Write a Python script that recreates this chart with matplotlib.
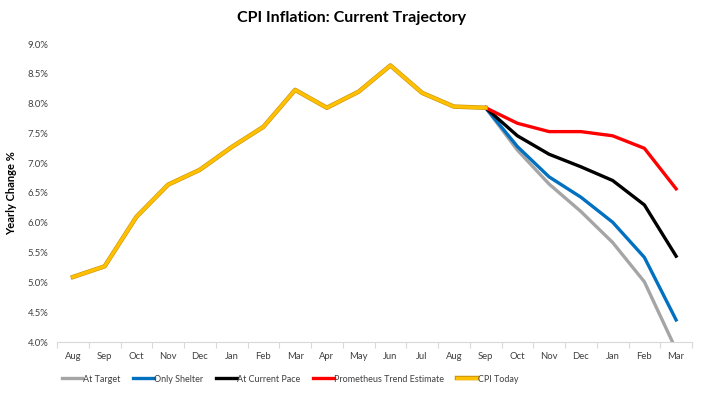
import matplotlib
matplotlib.use('Agg')
import matplotlib.pyplot as plt
import matplotlib.patheffects as pe
import numpy as np
from matplotlib.ticker import FuncFormatter, FixedLocator

months = ['Aug', 'Sep', 'Oct', 'Nov', 'Dec', 'Jan', 'Feb', 'Mar', 'Apr', 'May',
          'Jun', 'Jul', 'Aug', 'Sep', 'Oct', 'Nov', 'Dec', 'Jan', 'Feb', 'Mar']

# CPI history, Aug through Sep (14 months)
cpi_today = [5.09, 5.27, 6.10, 6.64, 6.89, 7.27, 7.61, 8.23, 7.93, 8.20,
             8.64, 8.18, 7.95, 7.93]

# projections, Sep through Mar
at_target = [7.93, 7.22, 6.65, 6.19, 5.67, 5.01, 3.87]
only_shelter = [7.93, 7.28, 6.77, 6.43, 6.01, 5.42, 4.37]
current_pace = [7.93, 7.46, 7.15, 6.94, 6.71, 6.30, 5.44]
prometheus = [7.93, 7.67, 7.53, 7.53, 7.46, 7.25, 6.57]

plt.rcParams['font.family'] = ['Lato', 'DejaVu Sans']

fig = plt.figure(figsize=(7.04, 3.93), dpi=100)
ax = fig.add_axes([57 / 704, 1 - 342 / 393, (692 - 57) / 704, (342 - 44) / 393])

x_hist = np.arange(len(cpi_today))
x_proj = np.arange(len(cpi_today) - 1, len(months))

lw = 2.4
ax.plot(x_proj, at_target, color='#A5A5A5', lw=lw, label='At Target')
ax.plot(x_proj, only_shelter, color='#0070C0', lw=lw, label='Only Shelter')
ax.plot(x_proj, current_pace, color='#000000', lw=lw, label='At Current Pace')
ax.plot(x_proj, prometheus, color='#FF0000', lw=lw, label='Prometheus Trend Estimate')
ax.plot(x_hist, cpi_today, color='#FFC000', lw=lw, label='CPI Today',
        path_effects=[pe.Stroke(linewidth=lw + 0.8, foreground='#C89010'), pe.Normal()])

fs = 6.8
ax.set_xlim(-0.5, len(months) - 0.5)
ax.set_ylim(4.0, 9.0)
ax.set_yticks(np.arange(4.0, 9.01, 0.5))
ax.yaxis.set_major_formatter(FuncFormatter(lambda v, p: f'{v:.1f}%'))
ax.tick_params(axis='y', length=0, labelsize=fs, colors='#404040', pad=6)

ax.set_xticks(np.arange(len(months)))
ax.set_xticklabels(months)
ax.xaxis.set_minor_locator(FixedLocator(np.arange(-0.5, len(months), 1)))
ax.tick_params(axis='x', which='major', length=0, labelsize=fs, colors='#404040', pad=7)
ax.tick_params(axis='x', which='minor', length=4, color='#D9D9D9', width=0.8)

for s in ['top', 'right', 'left']:
    ax.spines[s].set_visible(False)
ax.spines['bottom'].set_color('#D9D9D9')
ax.spines['bottom'].set_linewidth(0.8)

ax.set_ylabel('Yearly Change %', fontsize=8, fontweight='bold', color='#000000')
ax.yaxis.set_label_coords(-0.063, 0.5)

fig.text(352 / 704, 1 - 18 / 393, 'CPI Inflation: Current Trajectory', ha='center', va='center',
         fontsize=11.5, fontweight='bold')

leg = fig.legend(loc='center', bbox_to_anchor=(290 / 704, 1 - 379 / 393), ncol=5, frameon=False,
                 fontsize=6.5, handlelength=2.3, handletextpad=0.05, columnspacing=1.4)
for t in leg.get_texts():
    t.set_color('#404040')

fig.savefig('out.png', dpi=100)
